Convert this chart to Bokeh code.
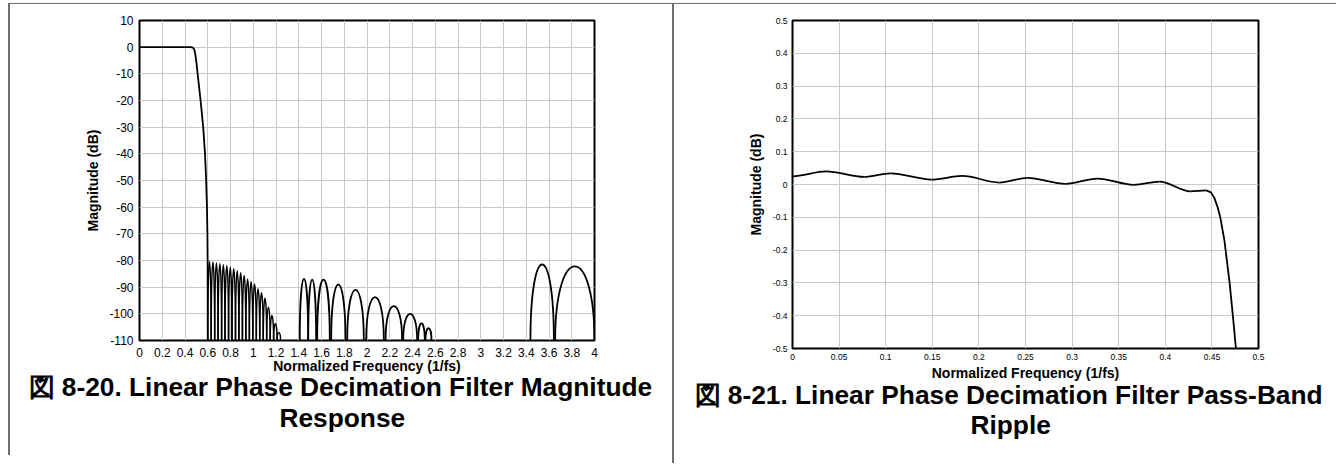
from bokeh.plotting import figure
from bokeh.models import Range1d, FixedTicker, Title
from bokeh.layouts import row
from bokeh.embed import file_html
from bokeh.resources import INLINE

FONT = "Liberation Sans"
FLOOR = -110

# ---------------- Figure 8-20 : magnitude response ----------------
mag_x_ticks = [0, 0.2, 0.4, 0.6, 0.8, 1, 1.2, 1.4, 1.6, 1.8, 2, 2.2, 2.4, 2.6, 2.8, 3, 3.2, 3.4, 3.6, 3.8, 4]
mag_x_labels = ["0", "0.2", "0.4", "0.6", "0.8", "1", "1.2", "1.4", "1.6", "1.8", "2", "2.2", "2.4", "2.6",
                "2.8", "3", "3.2", "3.4", "3.6", "3.8", "4"]
mag_y_ticks = [10, 0, -10, -20, -30, -40, -50, -60, -70, -80, -90, -100, -110]
mag_y_labels = ["10", "0", "-10", "-20", "-30", "-40", "-50", "-60", "-70", "-80", "-90", "-100", "-110"]

# pass band and transition band
trans_freq = [0.0, 0.45, 0.47, 0.481, 0.49, 0.50, 0.511, 0.537, 0.560, 0.576, 0.586, 0.593, 0.597, 0.599, 0.6]
trans_db = [0, 0, -0.2, -0.8, -2.5, -5.5, -10, -20, -30, -40, -50, -60, -70, -80, -110]

# stop band lobes: where each lobe leaves / returns to the -110 dB floor, and its peak
narrow_nulls = [0.600, 0.630, 0.661, 0.691, 0.722, 0.752, 0.783, 0.813, 0.844, 0.874, 0.905,
                0.935, 0.966, 0.996, 1.027, 1.057, 1.088, 1.118, 1.149, 1.179, 1.210, 1.240]
narrow_peaks = [-80.4, -80.6, -80.9, -81.2, -81.6, -82.0, -82.5, -83.1, -83.8, -84.6, -85.6,
                -86.9, -87.9, -88.8, -90.6, -92.1, -94.1, -97.5, -100.6, -103.7, -107.1]

wide_start = [1.409, 1.483, 1.562, 1.685, 1.826, 1.993, 2.163, 2.318, 2.450, 2.514, 3.437, 3.654]
wide_end = [1.483, 1.553, 1.673, 1.811, 1.972, 2.148, 2.309, 2.441, 2.508, 2.567, 3.643, 4.000]
wide_peak = [-86.9, -87.2, -87.2, -89.0, -91.0, -93.7, -97.1, -100.0, -103.6, -105.4, -81.5, -82.2]

# ---------------- Figure 8-21 : pass-band ripple ----------------
rip_x_ticks = [0, 0.05, 0.1, 0.15, 0.2, 0.25, 0.3, 0.35, 0.4, 0.45, 0.5]
rip_x_labels = ["0", "0.05", "0.1", "0.15", "0.2", "0.25", "0.3", "0.35", "0.4", "0.45", "0.5"]
rip_y_ticks = [0.5, 0.4, 0.3, 0.2, 0.1, 0, -0.1, -0.2, -0.3, -0.4, -0.5]
rip_y_labels = ["0.5", "0.4", "0.3", "0.2", "0.1", "0", "-0.1", "-0.2", "-0.3", "-0.4", "-0.5"]

# ripple extrema (peaks / troughs)
rip_ext_x = [0.0, 0.036, 0.077, 0.105, 0.149, 0.182, 0.222, 0.252, 0.293, 0.327, 0.366, 0.394, 0.427, 0.444]
rip_ext_y = [0.025, 0.040, 0.023, 0.034, 0.015, 0.026, 0.006, 0.020, 0.002, 0.018, -0.001, 0.009, -0.021, -0.018]
# band edge roll-off
drop_x = [0.444, 0.449, 0.4525, 0.456, 0.459, 0.4634, 0.469, 0.4725, 0.4758, 0.477]
drop_y = [-0.018, -0.024, -0.040, -0.068, -0.100, -0.170, -0.300, -0.400, -0.500, -0.530]

captions_left = ["図 8-20. Linear Phase Decimation Filter Magnitude", "Response"]
captions_right = ["図 8-21. Linear Phase Decimation Filter Pass-Band", "Ripple"]


def style_axes(p, xt, xl, yt, yl, tick_px, xstand, ystand, xlab_stand, ylab_stand):
    p.xaxis.ticker = FixedTicker(ticks=xt)
    p.xaxis.major_label_overrides = dict(zip(xt, xl))
    p.yaxis.ticker = FixedTicker(ticks=yt)
    p.yaxis.major_label_overrides = dict(zip(yt, yl))
    for ax in (p.xaxis, p.yaxis):
        ax.axis_line_color = None
        ax.major_tick_line_color = None
        ax.minor_tick_line_color = None
        ax.major_tick_out = 0
        ax.major_tick_in = 0
        ax.minor_tick_out = 0
        ax.minor_tick_in = 0
        ax.major_label_text_font = FONT
        ax.major_label_text_font_size = tick_px
        ax.major_label_text_color = "black"
        ax.axis_label_text_font = FONT
        ax.axis_label_text_font_size = "14px"
        ax.axis_label_text_font_style = "bold"
        ax.axis_label_text_color = "black"
    p.xaxis.major_label_standoff = xstand
    p.yaxis.major_label_standoff = ystand
    p.xaxis.axis_label_standoff = xlab_stand
    p.yaxis.axis_label_standoff = ylab_stand
    p.xaxis.axis_label = "Normalized Frequency (1/fs)"
    p.yaxis.axis_label = "Magnitude (dB)"
    p.grid.grid_line_color = "#c8c8c8"
    p.grid.grid_line_width = 1
    p.outline_line_color = "black"
    p.outline_line_width = 2
    p.outline_line_alpha = 1


def add_caption(p, lines, offsets, standoffs):
    for txt, off, so in zip(lines, offsets, standoffs):
        p.add_layout(Title(text=txt, align="left", offset=off, standoff=so,
                           text_font=FONT, text_font_size="26.3px", text_font_style="bold",
                           text_color="black"), "below")


GRAY = "#707070"

# ---------- left panel ----------
p1 = figure(width=664, height=452, output_backend="svg", toolbar_location=None,
            x_range=Range1d(0, 4), y_range=Range1d(-110, 10),
            min_border_left=129, min_border_right=80, min_border_top=16, min_border_bottom=116,
            background_fill_color="white", border_fill_color="white",
            margin=(3, 0, 0, 8),
            styles={"border-top": "1px solid " + GRAY, "border-left": "2px solid " + GRAY})
style_axes(p1, mag_x_ticks, mag_x_labels, mag_y_ticks, mag_y_labels, "12px", 7, 6, -2, 5)

p1.line(trans_freq, trans_db, line_color="black", line_width=1.8)

n_s = narrow_nulls[:-1]
n_e = narrow_nulls[1:]
n_c = [(pk - 0.25 * FLOOR) / 0.75 for pk in narrow_peaks]
p1.bezier(x0=n_s, y0=[FLOOR] * len(n_s), x1=n_e, y1=[FLOOR] * len(n_e),
          cx0=n_s, cy0=n_c, cx1=n_e, cy1=n_c, line_color="black", line_width=1.5)

w_c = [(pk - 0.25 * FLOOR) / 0.75 for pk in wide_peak]
p1.bezier(x0=wide_start, y0=[FLOOR] * len(wide_start), x1=wide_end, y1=[FLOOR] * len(wide_end),
          cx0=wide_start, cy0=w_c, cx1=wide_end, cy1=w_c, line_color="black", line_width=1.8)

add_caption(p1, captions_left, [-111, 140], [-13, 11])

# ---------- right panel ----------
p2 = figure(width=664, height=460, output_backend="svg", toolbar_location=None,
            x_range=Range1d(0, 0.5), y_range=Range1d(-0.5, 0.5),
            min_border_left=118, min_border_right=80, min_border_top=16, min_border_bottom=116,
            background_fill_color="white", border_fill_color="white",
            margin=(3, 0, 0, 0),
            styles={"border-top": "1px solid " + GRAY, "border-left": "2px solid " + GRAY})
style_axes(p2, rip_x_ticks, rip_x_labels, rip_y_ticks, rip_y_labels, "8.5px", 5, 5, 2, 6)

sx0 = rip_ext_x[:-1]
sx1 = rip_ext_x[1:]
sy0 = rip_ext_y[:-1]
sy1 = rip_ext_y[1:]
c0 = [a + (b - a) / 3 for a, b in zip(sx0, sx1)]
c1 = [a + 2 * (b - a) / 3 for a, b in zip(sx0, sx1)]
p2.bezier(x0=sx0, y0=sy0, x1=sx1, y1=sy1, cx0=c0, cy0=sy0, cx1=c1, cy1=sy1,
          line_color="black", line_width=1.8)
p2.line(drop_x, drop_y, line_color="black", line_width=1.8)

add_caption(p2, captions_right, [-98, 178], [-12, 9])

layout = row(p1, p2)
open("out.html", "w").write(file_html(layout, INLINE))
